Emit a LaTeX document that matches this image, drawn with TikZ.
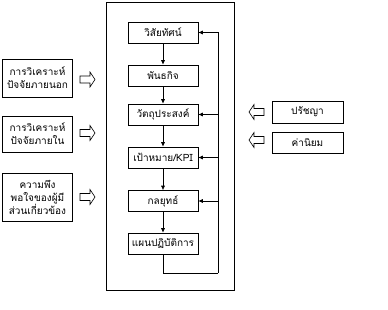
\documentclass[tikz,border=0pt]{standalone}
\usepackage{fontspec}
\newfontfamily\thaifont[Script=Thai]{Loma}
\usetikzlibrary{arrows.meta}
\begin{document}
\begin{tikzpicture}[x=1pt,y=-1pt,
  every node/.style={font=\thaifont\fontsize{10}{13}\selectfont},
  box/.style={draw,line width=0.6pt,minimum width=70pt,inner sep=0pt,align=center},
  inbox/.style={box,minimum height=21pt},
  link/.style={line width=0.6pt,-{Latex[length=4.5pt,width=4pt]}},
  hollow/.pic={\draw[line width=0.6pt] (0,-3.5)--(10,-3.5)--(10,-7.5)--(15,0)--(10,7.5)--(10,3.5)--(0,3.5)--cycle;}]
\useasboundingbox (0,0) rectangle (388,310);
\node[draw,line width=0.7pt,minimum width=128pt,minimum height=288pt,inner sep=0pt] (frame) at (170,146) {};
\node[inbox] (v) at (163,32.5) {วิสัยทัศน์};
\node[inbox] (m) at (163,75.5) {พันธกิจ};
\node[inbox] (o) at (163,114.5) {วัตถุประสงค์};
\node[inbox] (k) at (163,157.5) {เป้าหมาย/KPI};
\node[inbox] (s) at (163,201) {กลยุทธ์};
\node[inbox] (p) at (163,243.5) {แผนปฏิบัติการ};
\draw[link] (v) -- (m);
\draw[link] (m) -- (o);
\draw[link] (o) -- (k);
\draw[link] (k) -- (s);
\draw[link] (s) -- (p);
\coordinate (c1) at (163,273);
\coordinate (c2) at (218,273);
\draw[line width=0.6pt] (p.south) -- (c1) -- (c2);
\draw[link] (c2) |- (v.east);
\draw[link] (c2 |- o.east) -- (o.east);
\draw[link] (c2 |- k.east) -- (k.east);
\draw[link] (c2 |- s.east) -- (s.east);
\node[box,minimum height=38pt] (ea) at (37.5,78) {การวิเคราะห์\\ปัจจัยภายนอก};
\node[box,minimum height=36pt] (ia) at (37.5,134) {การวิเคราะห์\\ปัจจัยภายใน};
\node[box,minimum height=48pt] (st) at (37.5,197) {ความพึง\\พอใจของผู้มี\\ส่วนเกี่ยวข้อง};
\pic at (80,79.5) {hollow};
\pic at (80,133) {hollow};
\pic at (80,197) {hollow};
\node[box,minimum width=71pt,minimum height=22pt] (ph) at (307.5,112) {ปรัชญา};
\node[box,minimum width=71pt,minimum height=21pt] (va) at (307.5,142.5) {ค่านิยม};
\pic[xscale=-1] at (264,112) {hollow};
\pic[xscale=-1] at (264,140) {hollow};
\end{tikzpicture}
\end{document}
